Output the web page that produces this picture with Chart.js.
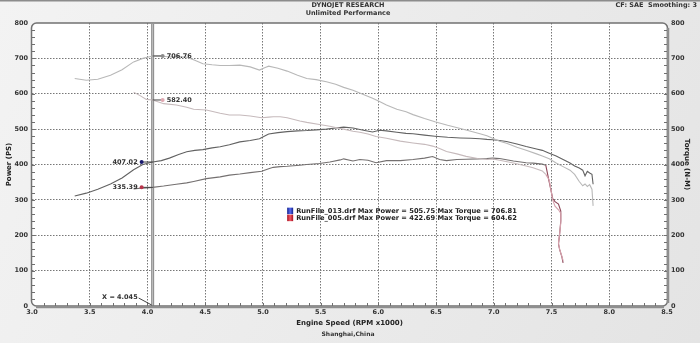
<!DOCTYPE html>
<html>
<head>
<meta charset="UTF-8">
<title>Dyno Run Comparison</title>
<script src="https://cdn.jsdelivr.net/npm/chart.js"></script>
<style>
  html, body { margin: 0; padding: 0; background: #ececec; }
  canvas { display: block; }
</style>
</head>
<body>
<canvas id="dyno" width="700" height="343"></canvas>
<script>
// run 013 (power PS / torque N-M against engine speed x1000)
const rpm013 = [3.37, 3.47, 3.57, 3.68, 3.78, 3.88, 3.96, 4.045, 4.12, 4.19, 4.27, 4.34, 4.41, 4.48, 4.56, 4.63, 4.71,
  4.80, 4.89, 4.97, 5.02, 5.05, 5.13, 5.21, 5.30, 5.38, 5.46, 5.55, 5.63, 5.70, 5.78, 5.87, 5.95, 6.01, 6.07,
  6.16, 6.24, 6.30, 6.40, 6.49, 6.60, 6.71, 6.80, 6.88, 6.94, 6.99, 7.05, 7.11, 7.20, 7.28, 7.37, 7.42, 7.48,
  7.54, 7.60, 7.66, 7.70, 7.74, 7.77, 7.79, 7.81, 7.83, 7.85, 7.86];
const power013 = [311, 319, 330, 345, 362, 385, 400, 407.02, 411, 418, 428, 436, 440, 442, 447, 450, 456,
  464, 468, 473, 481, 486, 490, 493, 495, 496, 498, 500, 503, 505.75, 503, 497, 492, 497, 495,
  491, 488, 487, 483, 480, 477, 475, 474, 473, 471, 470, 468, 465, 458, 451, 444, 440, 432,
  424, 414, 404, 396, 390, 384, 368, 381, 376, 372, 344];
const torque013 = [643, 638, 641, 652, 668, 690, 700, 706.76, 706.81, 704, 705, 703, 695, 685, 682, 680, 680,
  681, 676, 667, 674, 678, 672, 664, 652, 643, 640, 634, 627, 618, 610, 598, 587, 578, 568,
  556, 549, 541, 530, 521, 511, 502, 494, 487, 481, 474, 466, 460, 449, 440, 430, 424, 416,
  404, 394, 384, 372, 352, 340, 345, 338, 343, 330, 283];

// run 005
const rpm005 = [3.88, 3.94, 3.99, 4.045, 4.14, 4.25, 4.34, 4.40, 4.51, 4.63, 4.71, 4.80, 4.89, 4.99, 5.05, 5.09,
  5.15, 5.21, 5.32, 5.38, 5.49, 5.58, 5.67, 5.70, 5.78, 5.84, 5.91, 5.98, 6.07, 6.19, 6.30, 6.40, 6.47,
  6.53, 6.59, 6.68, 6.76, 6.86, 6.94, 6.99, 7.05, 7.17, 7.28, 7.34, 7.42, 7.45, 7.48, 7.51, 7.53, 7.56,
  7.58, 7.58, 7.57, 7.56, 7.57, 7.59, 7.60];
const power005 = [331, 333, 334, 335.39, 339, 344, 348, 352, 360, 365, 370, 373, 377, 381, 388, 392,
  394, 395, 398, 400, 403, 407, 413, 416, 410, 414, 412, 405, 411, 411, 414, 418, 422.69,
  414, 411, 414, 415, 416, 417, 418, 417, 410, 405, 404, 401, 398, 350, 304, 295, 288,
  268, 240, 204, 175, 160, 138, 122];
const torque005 = [604.62, 594, 584, 582.40, 572, 568, 562, 556, 554, 545, 540, 540, 537, 532, 534, 535,
  535, 532, 523, 519, 513, 508, 502, 500, 494, 491, 486, 479, 474, 466, 461, 457, 452,
  445, 437, 430, 423, 417, 414, 416, 412, 404, 396, 391, 382, 372, 356, 300, 282, 272,
  262, 235, 204, 178, 160, 140, 128];

// cursor readout and run summary
const cursorRpm = 4.045;
const cursorTorque = [706.76, 582.40];
const cursorPower = [407.02, 335.39];
const runNames = ['RunFile_013.drf', 'RunFile_005.drf'];
const maxPower = [505.75, 422.69];
const maxTorque = [706.81, 604.62];

const FONT = '"DejaVu Sans", sans-serif';

function pts(xs, ys) {
  return xs.map((x, i) => ({ x: x, y: ys[i] }));
}

// reddish tail where run 005 falls away past 7.45k
function tail005(col) {
  return ctx => (rpm005[ctx.p0DataIndex] >= 7.45 ? col : undefined);
}

const background = {
  id: 'background',
  beforeDraw(chart) {
    const { ctx, chartArea: a, width, height } = chart;
    ctx.save();
    const g = ctx.createLinearGradient(0, 0, width, height);
    g.addColorStop(0, '#f3f3f3');
    g.addColorStop(1, '#e4e4e4');
    ctx.fillStyle = g;
    ctx.fillRect(0, 0, width, height);
    ctx.fillStyle = '#8c8c8c';
    ctx.fillRect(0, 0, width, 1.5);
    ctx.fillStyle = '#ffffff';
    ctx.beginPath();
    ctx.roundRect(a.left, a.top, a.right - a.left, a.bottom - a.top, 5);
    ctx.fill();
    ctx.restore();
  },
  beforeDatasetsDraw(chart) {
    const { ctx, chartArea: a, scales } = chart;
    const cx = scales.x.getPixelForValue(cursorRpm);
    ctx.save();
    ctx.strokeStyle = '#8a8a8a';
    ctx.lineWidth = 3;
    ctx.beginPath();
    ctx.moveTo(cx, a.top + 1);
    ctx.lineTo(cx, a.bottom);
    ctx.stroke();
    ctx.strokeStyle = '#c4c4c4';
    ctx.lineWidth = 1;
    ctx.stroke();
    ctx.restore();
  }
};

const overlay = {
  id: 'overlay',
  afterDraw(chart) {
    const { ctx, chartArea: a, scales } = chart;
    const x = scales.x, y = scales.y;
    ctx.save();

    // frame
    ctx.strokeStyle = '#727272';
    ctx.lineWidth = 1.5;
    ctx.beginPath();
    ctx.roundRect(a.left - 0.5, a.top, a.right - a.left + 1, a.bottom - a.top, 5);
    ctx.stroke();
    ctx.strokeStyle = '#8e8e8e';
    ctx.lineWidth = 2.5;
    ctx.beginPath();
    ctx.moveTo(a.right + 1, a.top + 5);
    ctx.lineTo(a.right + 1, a.bottom - 3);
    ctx.moveTo(a.left + 4, a.bottom + 1);
    ctx.lineTo(a.right - 3, a.bottom + 1);
    ctx.stroke();

    // minor ticks
    ctx.strokeStyle = '#707070';
    ctx.lineWidth = 1;
    ctx.beginPath();
    for (let v = 20; v < 800; v += 20) {
      const py = Math.round(y.getPixelForValue(v)) + 0.5;
      ctx.moveTo(a.left, py); ctx.lineTo(a.left + 3, py);
      ctx.moveTo(a.right, py); ctx.lineTo(a.right - 3, py);
    }
    for (let v = 3.1; v < 8.45; v += 0.1) {
      const px = Math.round(x.getPixelForValue(v)) + 0.5;
      ctx.moveTo(px, a.bottom); ctx.lineTo(px, a.bottom - 3);
    }
    ctx.stroke();

    // cursor readouts
    const cx = x.getPixelForValue(cursorRpm);
    ctx.font = 'bold 6.5px ' + FONT;
    ctx.textBaseline = 'middle';
    const right = [
      { v: cursorTorque[0], dot: '#8c8c8c' },
      { v: cursorTorque[1], dot: '#e0a8b2' }
    ];
    right.forEach(r => {
      const py = y.getPixelForValue(r.v);
      ctx.strokeStyle = '#444';
      ctx.lineWidth = 1;
      ctx.beginPath();
      ctx.moveTo(cx, py); ctx.lineTo(cx + 9, py);
      ctx.stroke();
      ctx.fillStyle = r.dot;
      ctx.beginPath(); ctx.arc(cx + 10, py, 2, 0, Math.PI * 2); ctx.fill();
      ctx.fillStyle = '#333';
      ctx.textAlign = 'left';
      ctx.fillText(r.v.toFixed(2), cx + 14, py);
    });
    const left = [
      { v: cursorPower[0], dot: '#18186e' },
      { v: cursorPower[1], dot: '#b8344a' }
    ];
    left.forEach(r => {
      const py = y.getPixelForValue(r.v);
      ctx.strokeStyle = '#444';
      ctx.lineWidth = 1;
      ctx.beginPath();
      ctx.moveTo(cx - 11, py); ctx.lineTo(cx, py);
      ctx.stroke();
      ctx.fillStyle = r.dot;
      ctx.beginPath(); ctx.arc(cx - 11, py, 2, 0, Math.PI * 2); ctx.fill();
      ctx.fillStyle = '#333';
      ctx.textAlign = 'right';
      ctx.fillText(r.v.toFixed(2), cx - 15, py);
    });

    // X = readout at the foot of the cursor
    ctx.textAlign = 'right';
    ctx.fillText('X = ' + cursorRpm.toFixed(3), cx - 15, a.bottom - 8.5);
    ctx.strokeStyle = '#444';
    ctx.beginPath();
    ctx.moveTo(cx - 14, a.bottom - 8);
    ctx.lineTo(cx - 1, a.bottom - 1);
    ctx.stroke();

    // run legend
    const lx = x.getPixelForValue(5.21), ly = y.getPixelForValue(278);
    const swatch = [['#10208c', '#5a6cf0'], ['#a81020', '#f05a66']];
    runNames.forEach((name, i) => {
      const top = ly + i * 7;
      const g = ctx.createLinearGradient(lx, 0, lx + 6, 0);
      g.addColorStop(0, swatch[i][0]);
      g.addColorStop(0.5, swatch[i][1]);
      g.addColorStop(1, swatch[i][0]);
      ctx.fillStyle = g;
      ctx.fillRect(lx, top, 6, 6.5);
      ctx.fillStyle = '#222';
      ctx.textAlign = 'left';
      ctx.font = 'bold 6.7px ' + FONT;
      ctx.fillText(name + ' Max Power = ' + maxPower[i].toFixed(2) + ' Max Torque = ' + maxTorque[i].toFixed(2),
        lx + 9, top + 3.5);
    });

    // header and footer text
    ctx.fillStyle = '#333';
    ctx.textAlign = 'center';
    ctx.font = 'bold 6.5px ' + FONT;
    ctx.fillText('DYNOJET RESEARCH', 348, 5.5);
    ctx.fillText('Unlimited Performance', 348, 13.5);
    ctx.textAlign = 'right';
    ctx.fillText('CF: SAE  Smoothing: 3', 697, 5.5);
    ctx.textAlign = 'center';
    ctx.font = 'bold 6px ' + FONT;
    ctx.fillText('Shanghai,China', 348, 334.5);
    ctx.restore();
  }
};

const tickFont = { family: FONT, size: 6.5, weight: 'bold' };
const titleFont = { family: FONT, size: 7, weight: 'bold' };

new Chart(document.getElementById('dyno'), {
  type: 'line',
  data: {
    datasets: [
      { label: 'Torque 013', data: pts(rpm013, torque013), yAxisID: 'y1', borderColor: '#b8b8b8', borderWidth: 1.1 },
      { label: 'Torque 005', data: pts(rpm005, torque005), yAxisID: 'y1', borderColor: '#c6babc', borderWidth: 1.1,
        segment: { borderColor: tail005('#d6a2ad') } },
      { label: 'Power 013', data: pts(rpm013, power013), yAxisID: 'y', borderColor: '#626262', borderWidth: 1.1 },
      { label: 'Power 005', data: pts(rpm005, power005), yAxisID: 'y', borderColor: '#747070', borderWidth: 1.1,
        segment: { borderColor: tail005('#8c4658') } }
    ]
  },
  options: {
    responsive: false,
    devicePixelRatio: 1,
    animation: false,
    layout: { padding: { top: 23, left: 0, right: 0, bottom: 0 } },
    elements: { point: { radius: 0 }, line: { tension: 0 } },
    plugins: { legend: { display: false }, tooltip: { enabled: false } },
    scales: {
      x: {
        type: 'linear', min: 3, max: 8.5,
        afterFit: s => { s.height = 37; },
        ticks: { stepSize: 0.5, padding: 2, color: '#333', font: tickFont, maxRotation: 0,
          callback: v => v.toFixed(1) },
        grid: { drawTicks: false, color: c => (c.tick && (c.tick.value === 3 || c.tick.value === 8.5)) ? 'rgba(0,0,0,0)' : '#777777' },
        border: { display: false, dash: [1.5, 1.5] },
        title: { display: true, text: 'Engine Speed (RPM x1000)', color: '#222', font: titleFont, padding: { top: 0, bottom: 16 } }
      },
      y: {
        position: 'left', min: 0, max: 800,
        afterFit: s => { s.width = 32; },
        ticks: { stepSize: 100, padding: 4, color: '#333', font: tickFont },
        grid: { drawTicks: false, color: c => (c.tick && (c.tick.value === 0 || c.tick.value === 800)) ? 'rgba(0,0,0,0)' : '#777777' },
        border: { display: false, dash: [1.5, 1.5] },
        title: { display: true, text: 'Power (PS)', color: '#222', font: titleFont, padding: { top: 5, bottom: 0 } }
      },
      y1: {
        position: 'right', min: 0, max: 800,
        afterFit: s => { s.width = 33; },
        ticks: { stepSize: 100, padding: 4, color: '#333', font: tickFont },
        grid: { drawOnChartArea: false, drawTicks: false },
        border: { display: false },
        title: { display: true, text: 'Torque (N-M)', color: '#222', font: titleFont, padding: { top: 9, bottom: 0 } }
      }
    }
  },
  plugins: [background, overlay]
});
</script>
</body>
</html>
